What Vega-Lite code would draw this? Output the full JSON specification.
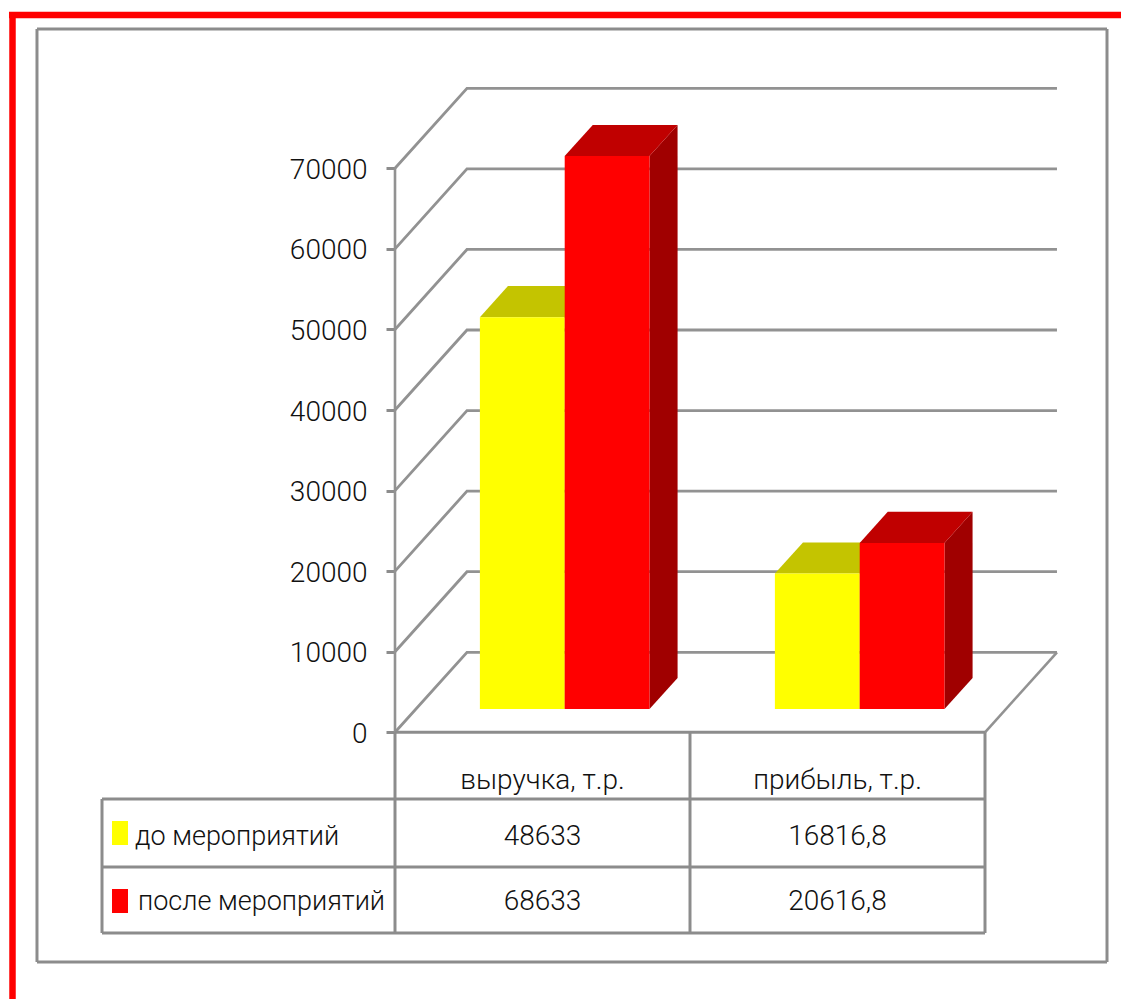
{
"$schema":"https://vega.github.io/schema/vega-lite/v6.json",
"width":1121,"height":999,"padding":0,"autosize":"none","background":"white",
"config":{"view":{"stroke":null},"text":{"font":"Roboto","fontSize":28,"fontWeight":300,"fill":"#111111"}},
"datasets":{
"rows":[
{"category":"выручка, т.р.","series":"до мероприятий","value":48633},
{"category":"выручка, т.р.","series":"после мероприятий","value":68633},
{"category":"прибыль, т.р.","series":"до мероприятий","value":16816.8},
{"category":"прибыль, т.р.","series":"после мероприятий","value":20616.8}],
"ticks":[{"tick":0},{"tick":10000},{"tick":20000},{"tick":30000},{"tick":40000},{"tick":50000},{"tick":60000},{"tick":70000}]
},
"data":{"name":"rows"},
"transform":[
{"calculate":"indexof(['выручка, т.р.','прибыль, т.р.'],datum.category)","as":"cat"},
{"calculate":"indexof(['до мероприятий','после мероприятий'],datum.series)","as":"ser"},
{"calculate":"datum.cat+0.217+datum.ser*0.2875","as":"uL"},
{"calculate":"datum.uL+0.2875","as":"uR"},
{"calculate":"replace(''+datum.value,'.',',')","as":"label"}
],
"encoding":{
"x":{"field":"X","type":"quantitative","axis":null,"scale":{"domain":[-1.33898,2.46102],"nice":false,"zero":false}},
"y":{"field":"Y","type":"quantitative","scale":{"domain":[-33102,90890],"nice":false,"zero":false},
"axis":{"orient":"left","offset":-395,"values":[0,10000,20000,30000,40000,50000,60000,70000],"format":"d","title":null,"domain":false,"grid":false,"ticks":true,"tickSize":9,"tickWidth":3,"tickColor":"#8c8c8c","labelPadding":19,"labelOffset":2,"labelFont":"Roboto","labelFontWeight":300,"labelFontSize":28,"labelColor":"#111111"}}
},
"resolve":{"scale":{"color":"independent"}},
"layer":[
{"data":{"values":[
{"X":-1.2136,"X2":2.4136,"Y":87290,"Y2":87290},
{"X":-1.2136,"X2":2.4136,"Y":-28505,"Y2":-28505},
{"X":-1.2136,"X2":-1.2136,"Y":87290,"Y2":-28505},
{"X":2.4136,"X2":2.4136,"Y":87290,"Y2":-28505}]},
"transform":[],
"mark":{"type":"rule","stroke":"#8c8c8c","strokeWidth":3},
"encoding":{"x2":{"field":"X2"},"y2":{"field":"Y2"}}},
{"data":{"values":[
{"X":-1.3085,"X2":2.46102,"Y":89029,"Y2":89029},
{"X":-1.2966,"X2":-1.2966,"Y":89400,"Y2":-33102}]},
"transform":[],
"mark":{"type":"rule","stroke":"#ff0000","strokeWidth":6.5},
"encoding":{"x2":{"field":"X2"},"y2":{"field":"Y2"}}},
{"data":{"name":"ticks"},
"transform":[
{"calculate":"[0,1,2]","as":"corner"},{"flatten":["corner"]},
{"calculate":"datum.corner==2?2.244:datum.corner*0.244","as":"X"},
{"calculate":"datum.tick+(datum.corner>0?9930:0)","as":"Y"}],
"mark":{"type":"line","stroke":"#929292","strokeWidth":2.8},
"encoding":{"detail":{"field":"tick"},"order":{"field":"corner"}}},
{"data":{"values":[
{"X":0,"X2":0,"Y":0,"Y2":70000},
{"X":2,"X2":2.244,"Y":0,"Y2":9930}]},
"transform":[],
"mark":{"type":"rule","stroke":"#929292","strokeWidth":2.6},
"encoding":{"x2":{"field":"X2"},"y2":{"field":"Y2"}}},
{"data":{"values":[
{"X":0,"X2":2,"Y":0,"Y2":0},
{"X":-0.9932,"X2":2,"Y":-8279,"Y2":-8279},
{"X":-0.9932,"X2":2,"Y":-16718,"Y2":-16718},
{"X":-0.9932,"X2":2,"Y":-24910,"Y2":-24910},
{"X":-0.9932,"X2":-0.9932,"Y":-8279,"Y2":-24910},
{"X":0,"X2":0,"Y":0,"Y2":-24910},
{"X":1,"X2":1,"Y":0,"Y2":-24910},
{"X":2,"X2":2,"Y":0,"Y2":-24910}]},
"transform":[],
"mark":{"type":"rule","stroke":"#8c8c8c","strokeWidth":3},
"encoding":{"x2":{"field":"X2"},"y2":{"field":"Y2"}}},
{"transform":[
{"calculate":"[0.29,0.68]","as":"depth"},{"flatten":["depth"]},
{"calculate":"datum.uR+0.244*datum.depth","as":"X"},
{"calculate":"datum.value+9930*datum.depth","as":"Y"},
{"calculate":"9930*datum.depth","as":"Y2"}],
"mark":{"type":"area","orient":"vertical"},
"encoding":{"y2":{"field":"Y2"},"detail":{"field":"category"},
"color":{"field":"series","type":"nominal","legend":null,"scale":{"domain":["до мероприятий","после мероприятий"],"range":["#a0a000","#a00000"]}}}},
{"transform":[
{"calculate":"[0.29,0.68]","as":"depth"},{"flatten":["depth"]},
{"calculate":"datum.uL+0.244*datum.depth","as":"X"},
{"calculate":"datum.uR+0.244*datum.depth","as":"X2"},
{"calculate":"datum.value+9930*datum.depth","as":"Y"}],
"mark":{"type":"area","orient":"horizontal"},
"encoding":{"x2":{"field":"X2"},"detail":{"field":"category"},
"color":{"field":"series","type":"nominal","legend":null,"scale":{"domain":["до мероприятий","после мероприятий"],"range":["#c4c400","#c00000"]}}}},
{"transform":[
{"calculate":"datum.uL+0.244*0.29","as":"X"},
{"calculate":"datum.uR+0.244*0.29","as":"X2"},
{"calculate":"datum.value+2880","as":"Y"},
{"calculate":"2880","as":"Y2"}],
"mark":{"type":"rect"},
"encoding":{"x2":{"field":"X2"},"y2":{"field":"Y2"},
"color":{"field":"series","type":"nominal","legend":null,"scale":{"domain":["до мероприятий","после мероприятий"],"range":["#ffff00","#ff0000"]}}}},
{"transform":[
{"filter":"datum.cat==0"},
{"calculate":"-0.9593","as":"X"},{"calculate":"-0.9051","as":"X2"},
{"calculate":"-11009-datum.ser*8440","as":"Y"},{"calculate":"-13988-datum.ser*8440","as":"Y2"}],
"mark":{"type":"rect"},
"encoding":{"x2":{"field":"X2"},"y2":{"field":"Y2"},
"color":{"field":"series","type":"nominal","legend":null,"scale":{"domain":["до мероприятий","после мероприятий"],"range":["#ffff00","#ff0000"]}}}},
{"transform":[
{"filter":"datum.cat==0"},
{"calculate":"-0.8814+datum.ser*0.0102","as":"X"},
{"calculate":"-12950-datum.ser*8070","as":"Y"}],
"mark":{"type":"text","align":"left","baseline":"middle","fontSize":27},
"encoding":{"text":{"field":"series"}}},
{"transform":[
{"filter":"datum.ser==0"},
{"calculate":"datum.cat+0.5","as":"X"},
{"calculate":"-6020","as":"Y"}],
"mark":{"type":"text","align":"center","baseline":"middle"},
"encoding":{"text":{"field":"category"}}},
{"transform":[
{"calculate":"datum.cat+0.5","as":"X"},
{"calculate":"-12950-datum.ser*8070","as":"Y"}],
"mark":{"type":"text","align":"center","baseline":"middle"},
"encoding":{"text":{"field":"label"}}}
]
}
